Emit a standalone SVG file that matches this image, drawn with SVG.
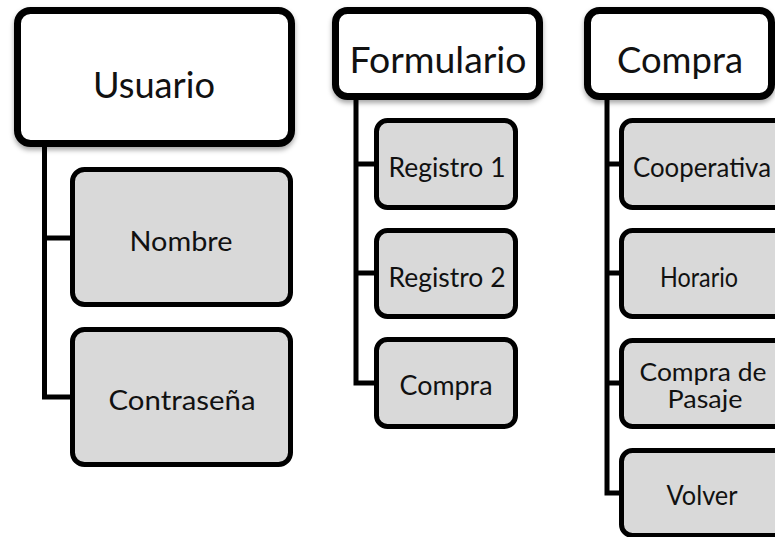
<svg xmlns="http://www.w3.org/2000/svg" width="775" height="537" viewBox="0 0 775 537">
<style>
.parent rect{fill:#fff;stroke:#000;stroke-width:7;filter:url(#sh)}
.child rect{fill:#d9d9d9;stroke:#000;stroke-width:5}
text{font-family:Lato,"Open Sans","Liberation Sans",sans-serif;fill:#111;text-anchor:middle}
.parent text{font-size:36px}
.child text{font-size:27px}
.child text.two{font-size:25px}
#connectors path{fill:none;stroke:#000;stroke-width:5;stroke-linejoin:miter}
</style>
<defs>
<filter id="sh" x="-10%" y="-10%" width="120%" height="130%">
<feDropShadow dx="0" dy="3" stdDeviation="2.5" flood-color="#000" flood-opacity="0.35"/>
</filter>
</defs>
<rect width="775" height="537" fill="#fff"/>
<g id="connectors">
<path d="M44.5 145 V397 H72 M44.5 238 H72"/>
<path d="M356 98 V383 H376 M356 164 H376 M356 273 H376"/>
<path d="M607 98 V493 H621 M607 164 H621 M607 273 H621 M607 383 H621"/>
</g>
<g id="usuario" class="parent"><rect x="17.5" y="10.5" width="274" height="133" rx="13"/><text x="154" y="98" textLength="122" lengthAdjust="spacingAndGlyphs">Usuario</text></g>
<g id="nombre" class="child"><rect x="72.5" y="169.5" width="218" height="135" rx="12"/><text x="181" y="251" textLength="103" lengthAdjust="spacingAndGlyphs">Nombre</text></g>
<g id="contrasena" class="child"><rect x="72.5" y="329.5" width="218" height="135" rx="12"/><text x="182" y="410" textLength="147" lengthAdjust="spacingAndGlyphs">Contraseña</text></g>
<g id="formulario" class="parent"><rect x="335.5" y="10.5" width="204" height="86" rx="12"/><text x="438" y="73" textLength="177" lengthAdjust="spacingAndGlyphs">Formulario</text></g>
<g id="registro1" class="child"><rect x="376.5" y="120.5" width="139" height="87" rx="11"/><text x="447" y="177" textLength="117" lengthAdjust="spacingAndGlyphs">Registro 1</text></g>
<g id="registro2" class="child"><rect x="376.5" y="230.5" width="139" height="86" rx="11"/><text x="447" y="287" textLength="117" lengthAdjust="spacingAndGlyphs">Registro 2</text></g>
<g id="compra-form" class="child"><rect x="376.5" y="339.5" width="139" height="87" rx="11"/><text x="446" y="395" textLength="93" lengthAdjust="spacingAndGlyphs">Compra</text></g>
<g id="compra" class="parent"><rect x="587.5" y="10.5" width="184" height="86" rx="12"/><text x="680" y="73" textLength="126" lengthAdjust="spacingAndGlyphs">Compra</text></g>
<g id="cooperativa" class="child"><rect x="621.5" y="120.5" width="170" height="87" rx="11"/><text x="702" y="177" textLength="138" lengthAdjust="spacingAndGlyphs">Cooperativa</text></g>
<g id="horario" class="child"><rect x="621.5" y="230.5" width="170" height="86" rx="11"/><text x="699" y="287" textLength="78" lengthAdjust="spacingAndGlyphs">Horario</text></g>
<g id="compra-pasaje" class="child"><rect x="621.5" y="340.5" width="170" height="86" rx="11"/><text class="two" x="703" y="381" textLength="127" lengthAdjust="spacingAndGlyphs">Compra de</text><text class="two" x="705" y="408" textLength="75" lengthAdjust="spacingAndGlyphs">Pasaje</text></g>
<g id="volver" class="child"><rect x="621.5" y="450.5" width="170" height="85" rx="11"/><text x="702" y="505" textLength="71" lengthAdjust="spacingAndGlyphs">Volver</text></g>
</svg>
